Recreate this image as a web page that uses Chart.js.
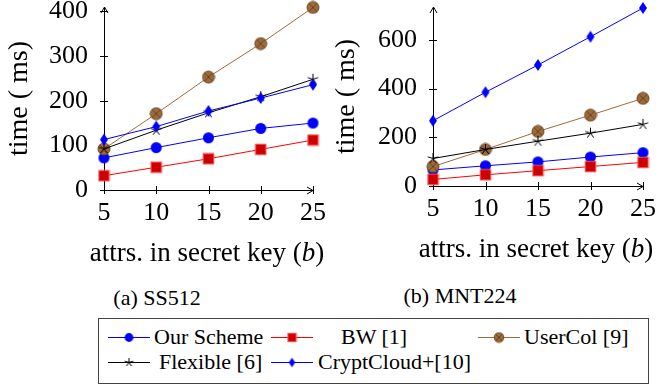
<!DOCTYPE html>
<html>
<head>
<meta charset="utf-8">
<script src="https://cdn.jsdelivr.net/npm/chart.js@4.4.1/dist/chart.umd.min.js"></script>
<style>
  html, body { margin: 0; padding: 0; background: #fff; }
  body { width: 657px; height: 387px; position: relative; overflow: hidden;
         font-family: "Liberation Serif", "Times New Roman", serif; color: #000; }
  canvas.plot { position: absolute; top: 0; }
  .lbl { position: absolute; white-space: nowrap; transform: translate(-50%, -50%); line-height: 1; }
  .xt { font-size: 27px; }
  .cap { font-size: 22px; }
  #legend { position: absolute; left: 98px; top: 318px; width: 551px; height: 66px;
            border: 1px solid #444; box-sizing: border-box; }
  .sw { position: absolute; transform: translateY(-50%); }
  .lt { position: absolute; font-size: 22px; white-space: nowrap; line-height: 1; transform: translateY(-50%); }
</style>
</head>
<body>
<canvas id="chartA" class="plot" width="330" height="270" style="left:0"></canvas>
<canvas id="chartB" class="plot" width="327" height="270" style="left:330px"></canvas>
<div class="lbl xt" style="left:207px;top:252px">attrs. in secret key (<i>b</i>)</div>
<div class="lbl xt" style="left:536px;top:248px">attrs. in secret key (<i>b</i>)</div>
<div class="lbl cap" style="left:157px;top:298px">(a) SS512</div>
<div class="lbl cap" style="left:460px;top:296px">(b) MNT224</div>
<div id="legend"></div>

<script>
// x positions (number of attributes) and tick labels
const xValues = [5, 10, 15, 20, 25];
const xTicks = [5, 10, 15, 20, 25];
const yTicksA = [0, 100, 200, 300, 400];
const yTicksB = [0, 200, 400, 600];

// (a) SS512, time in ms
const ourSchemeA = [72, 95, 117, 138, 150];
const bwA = [32, 51, 70, 91, 112];
const userColA = [92, 171, 253, 328, 409];
const flexibleA = [92, 134, 173, 209, 248];
const cryptCloudA = [113, 142, 177, 206, 236];

// (b) MNT224, time in ms
const ourSchemeB = [66, 83, 99, 119, 137];
const bwB = [27, 46, 63, 80, 97];
const userColB = [80, 150, 224, 291, 360];
const flexibleB = [113, 150, 184, 217, 253];
const cryptCloudB = [268, 385, 497, 613, 731];

const seriesNames = ['Our Scheme', 'BW [1]', 'UserCol [9]', 'Flexible [6]', 'CryptCloud+[10]'];

const FONT = '"Liberation Serif", "Times New Roman", serif';

// pgfplots-like marker images
function marker(kind, s) {
  const c = document.createElement('canvas');
  let ctx;
  if (kind === 'circle') {
    const r = 5.5 * s;
    c.width = c.height = Math.ceil(2 * r + 2);
    ctx = c.getContext('2d');
    ctx.fillStyle = '#0000ff';
    ctx.beginPath();
    ctx.arc(c.width / 2, c.height / 2, r, 0, Math.PI * 2);
    ctx.fill();
  } else if (kind === 'square') {
    const a = 10.5 * s;
    c.width = c.height = Math.ceil(a + 2);
    ctx = c.getContext('2d');
    const o = (c.width - a) / 2;
    ctx.fillStyle = '#cc0000';
    ctx.fillRect(o, o, a, a);
    ctx.strokeStyle = '#ff4a4a';
    ctx.lineWidth = 1;
    ctx.strokeRect(o, o, a, a);
  } else if (kind === 'otimes') {
    const r = 6 * s;
    c.width = c.height = Math.ceil(2 * r + 2);
    ctx = c.getContext('2d');
    const m = c.width / 2;
    ctx.fillStyle = '#9c6b3c';
    ctx.strokeStyle = '#74481f';
    ctx.lineWidth = 1;
    ctx.beginPath();
    ctx.arc(m, m, r, 0, Math.PI * 2);
    ctx.fill();
    ctx.stroke();
    const d = r * 0.7;
    ctx.strokeStyle = '#5a3815';
    ctx.lineWidth = 0.8;
    ctx.beginPath();
    ctx.moveTo(m - d, m - d); ctx.lineTo(m + d, m + d);
    ctx.moveTo(m + d, m - d); ctx.lineTo(m - d, m + d);
    ctx.stroke();
  } else if (kind === 'star') {
    const r = 5.5 * s;
    c.width = c.height = Math.ceil(2 * r + 2);
    ctx = c.getContext('2d');
    const m = c.width / 2;
    ctx.strokeStyle = '#000';
    ctx.lineWidth = 1;
    ctx.beginPath();
    for (let k = 0; k < 5; k++) {
      const ang = -Math.PI / 2 + k * 2 * Math.PI / 5;
      ctx.moveTo(m, m);
      ctx.lineTo(m + r * Math.cos(ang), m + r * Math.sin(ang));
    }
    ctx.stroke();
  } else if (kind === 'diamond') {
    const w = 4 * s, h = 6 * s;
    c.width = Math.ceil(2 * w + 2);
    c.height = Math.ceil(2 * h + 2);
    ctx = c.getContext('2d');
    const mx = c.width / 2, my = c.height / 2;
    ctx.fillStyle = '#0000ff';
    ctx.beginPath();
    ctx.moveTo(mx, my - h); ctx.lineTo(mx + w, my); ctx.lineTo(mx, my + h); ctx.lineTo(mx - w, my);
    ctx.closePath();
    ctx.fill();
  }
  return c;
}

const styles = [
  { color: '#0000ff', kind: 'circle' },
  { color: '#ff0000', kind: 'square' },
  { color: '#9c6b3c', kind: 'otimes' },
  { color: '#000000', kind: 'star' },
  { color: '#0000ff', kind: 'diamond' }
];

// axis lines with crossing tick marks and arrow heads, drawn under the data
const axesArrows = {
  id: 'axesArrows',
  beforeDatasetsDraw(chart) {
    const { ctx, chartArea: a, scales: { x, y } } = chart;
    ctx.save();
    ctx.strokeStyle = '#000';
    ctx.lineWidth = 1;
    ctx.beginPath();
    x.ticks.forEach(t => {
      const px = Math.round(x.getPixelForValue(t.value)) + 0.5;
      ctx.moveTo(px, a.bottom - 4); ctx.lineTo(px, a.bottom + 4);
    });
    y.ticks.forEach(t => {
      const py = Math.round(y.getPixelForValue(t.value)) + 0.5;
      ctx.moveTo(a.left - 4, py); ctx.lineTo(a.left + 4, py);
    });
    const L = Math.round(a.left) + 0.5, B = Math.round(a.bottom) + 0.5;
    ctx.moveTo(L, B); ctx.lineTo(a.right, B);
    ctx.moveTo(L, B); ctx.lineTo(L, a.top);
    // arrow heads
    ctx.moveTo(a.right - 6, B - 3.5); ctx.lineTo(a.right, B); ctx.lineTo(a.right - 6, B + 3.5);
    ctx.moveTo(L - 3.5, a.top + 6); ctx.lineTo(L, a.top); ctx.lineTo(L + 3.5, a.top + 6);
    ctx.stroke();
    ctx.restore();
  }
};

function makeChart(id, series, yMax, yTicks, pad, yWidth, xHeight, titlePad) {
  const datasets = series.map((vals, i) => ({
    label: seriesNames[i],
    data: xValues.map((xv, j) => ({ x: xv, y: vals[j] })),
    borderColor: styles[i].color,
    backgroundColor: styles[i].color,
    borderWidth: 1,
    pointStyle: marker(styles[i].kind, 1),
    pointRadius: 6,
    clip: false,
    order: series.length - i
  }));
  return new Chart(document.getElementById(id), {
    type: 'line',
    data: { datasets },
    options: {
      responsive: false,
      animation: false,
      devicePixelRatio: 1,
      layout: { padding: pad },
      elements: { line: { tension: 0 } },
      plugins: { legend: { display: false }, tooltip: { enabled: false } },
      scales: {
        x: {
          type: 'linear', min: 5, max: 25,
          grid: { display: false, drawTicks: false },
          border: { display: false },
          afterBuildTicks: s => { s.ticks = xTicks.map(v => ({ value: v })); },
          afterFit: s => { s.height = xHeight; s.paddingLeft = 0; s.paddingRight = 0; },
          ticks: { color: '#000', padding: 8, maxRotation: 0, font: { family: FONT, size: 26 } }
        },
        y: {
          min: 0, max: yMax,
          grid: { display: false, drawTicks: false },
          border: { display: false },
          afterBuildTicks: s => { s.ticks = yTicks.map(v => ({ value: v })); },
          afterFit: s => { s.width = yWidth; s.paddingTop = 0; s.paddingBottom = 0; },
          ticks: { color: '#000', padding: 16, font: { family: FONT, size: 26 } },
          title: {
            display: true, text: 'time ( ms)', color: '#000',
            font: { family: FONT, size: 28 },
            padding: { top: titlePad, bottom: 0 }
          }
        }
      }
    },
    plugins: [axesArrows]
  });
}

makeChart('chartA', [ourSchemeA, bwA, userColA, flexibleA, cryptCloudA],
  410, yTicksA, { left: 0, right: 17, top: 6.5, bottom: 0 }, 104, 80, 3);
makeChart('chartB', [ourSchemeB, bwB, userColB, flexibleB, cryptCloudB],
  735, yTicksB, { left: 0, right: 14, top: 3, bottom: 0 }, 103, 84, 0);

// legend: line swatch with marker, then label
const legendPos = [
  { sx: 9, ty: 18, tx: 55 },
  { sx: 172, ty: 18, tx: 242 },
  { sx: 379, ty: 18, tx: 425 },
  { sx: 9, ty: 43, tx: 60 },
  { sx: 172, ty: 43, tx: 219 }
];
const legend = document.getElementById('legend');
seriesNames.forEach((name, i) => {
  const p = legendPos[i];
  const sw = document.createElement('canvas');
  sw.width = 42; sw.height = 16;
  sw.className = 'sw';
  sw.style.left = p.sx + 'px';
  sw.style.top = p.ty + 'px';
  const c = sw.getContext('2d');
  c.strokeStyle = styles[i].color;
  c.lineWidth = 1;
  c.beginPath(); c.moveTo(0, 8.5); c.lineTo(42, 8.5); c.stroke();
  const m = marker(styles[i].kind, 0.8);
  c.drawImage(m, 21 - m.width / 2, 8.5 - m.height / 2);
  legend.appendChild(sw);
  const t = document.createElement('div');
  t.className = 'lt';
  t.style.left = p.tx + 'px';
  t.style.top = p.ty + 'px';
  t.textContent = name;
  legend.appendChild(t);
});
</script>
</body>
</html>
